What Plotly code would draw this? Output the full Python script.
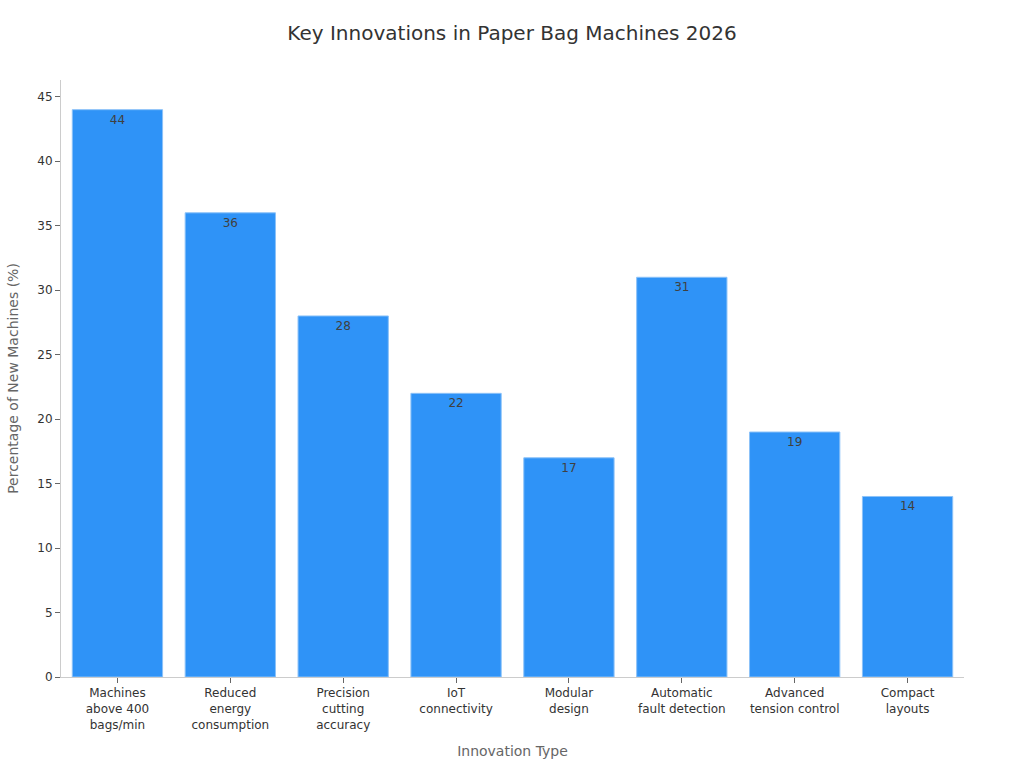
import plotly.graph_objects as go

categories = ["Machines<br>above 400<br>bags/min", "Reduced<br>energy<br>consumption",
              "Precision<br>cutting<br>accuracy", "IoT<br>connectivity", "Modular<br>design",
              "Automatic<br>fault detection", "Advanced<br>tension control", "Compact<br>layouts"]
values = [44, 36, 28, 22, 17, 31, 19, 14]

fig = go.Figure(go.Bar(
    x=categories, y=values, text=[str(v) for v in values],
    textposition="inside", insidetextanchor="end",
    textfont=dict(color="#404040", size=12, family="DejaVu Sans"),
    marker=dict(color="#2f93f7", line=dict(color="#8cc2f8", width=1)),
))
fig.update_layout(
    width=1024, height=768,
    font=dict(family="DejaVu Sans", color="#333333", size=12),
    title=dict(text="Key Innovations in Paper Bag Machines 2026", x=0.5, xanchor="center",
               y=0.957, yanchor="middle", font=dict(size=20, color="#333333")),
    plot_bgcolor="white", paper_bgcolor="white",
    margin=dict(l=61, r=60, t=80, b=91),
    bargap=0.2, showlegend=False,
    xaxis=dict(title=dict(text="Innovation Type", font=dict(size=14, color="#666666")),
               showline=True, linecolor="#cccccc", ticks="outside", ticklen=5, tickcolor="#666666",
               tickfont=dict(size=12, color="#333333")),
    yaxis=dict(title=dict(text="Percentage of New Machines (%)", font=dict(size=14, color="#666666")),
               range=[0, 46.3], dtick=5, showline=True, linecolor="#cccccc", ticks="outside",
               ticklen=5, tickcolor="#666666", showgrid=False, zeroline=False,
               tickfont=dict(size=12, color="#333333")),
)
fig.write_html("out.html")
